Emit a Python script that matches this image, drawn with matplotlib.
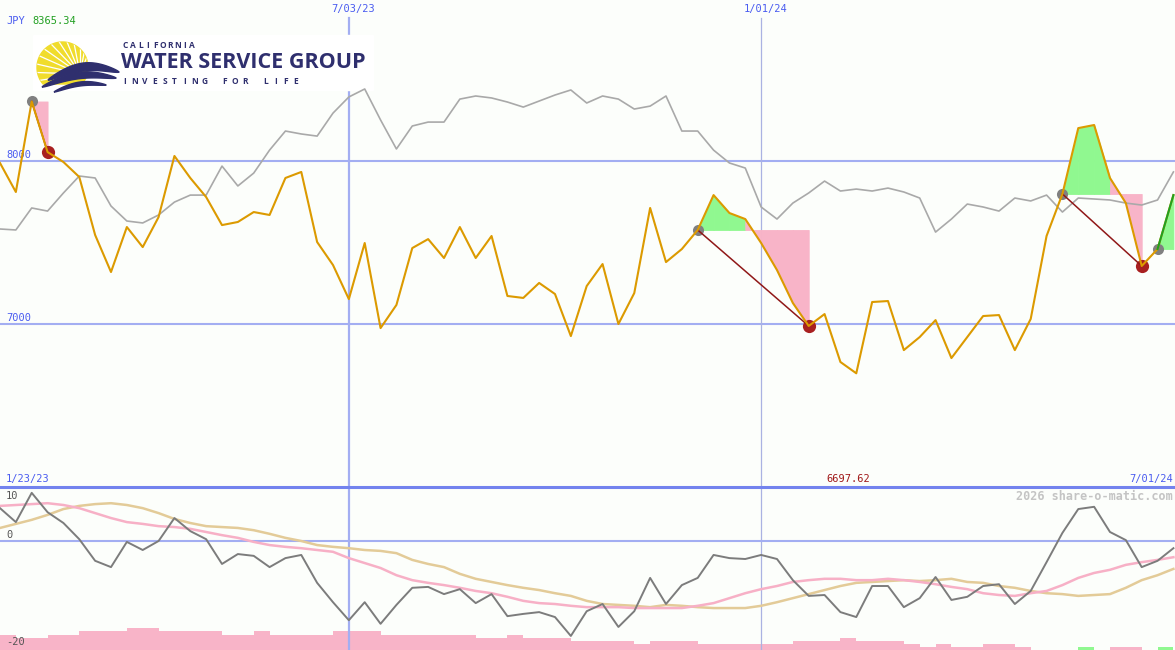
import matplotlib
matplotlib.use('Agg')
import matplotlib.pyplot as plt
import matplotlib.transforms as mtransforms
from matplotlib.patches import Polygon, Rectangle
import numpy as np
import pandas as pd

W, H = 1175, 650

# weekly data, index 0 = week of 1/30/23
first_week = pd.Timestamp('2023-01-30')
period_start = pd.Timestamp('2023-01-23')
period_end = pd.Timestamp('2024-07-01')
date_marks = [pd.Timestamp('2023-07-03'), pd.Timestamp('2024-01-01')]
price_levels = [7000, 8000]

price = [7988, 7810, 8365.34, 8055, 7994, 7902, 7546, 7319, 7595, 7472,
         7656, 8031, 7896, 7779, 7607, 7626, 7687, 7669, 7896, 7933,
         7503, 7362, 7153, 7497, 6975, 7117, 7466, 7521, 7405, 7595,
         7405, 7540, 7172, 7160, 7252, 7184, 6926, 7233, 7368, 7000,
         7190, 7712, 7380, 7460, 7577, 7791, 7681, 7644, 7497, 7331,
         7129, 6988, 7061, 6767, 6697.62, 7135, 7141, 6840, 6920, 7024,
         6791, 6920, 7049, 7055, 6840, 7031, 7540, 7798, 8202, 8221,
         7896, 7742, 7356, 7460, 7791]

# gray comparison series (rescaled to price)
compare = [7583, 7577, 7712, 7693, 7804, 7908, 7896, 7724, 7632, 7620,
           7669, 7748, 7791, 7791, 7969, 7847, 7926, 8067, 8184, 8166,
           8153, 8294, 8393, 8442, 8252, 8074, 8215, 8239, 8239, 8380,
           8399, 8387, 8362, 8331, 8368, 8405, 8436, 8356, 8399, 8380,
           8319, 8337, 8399, 8184, 8184, 8067, 7988, 7957, 7718, 7644,
           7742, 7804, 7877, 7816, 7828, 7816, 7834, 7810, 7773, 7564,
           7644, 7736, 7718, 7693, 7773, 7755, 7791, 7687, 7773, 7767,
           7761, 7742, 7730, 7761, 7933]

osc = [7.3, 4.2, 10.7, 6.4, 4.0, 0.4, -4.4, -5.8, -0.2, -2.0,
       0.0, 5.1, 2.2, 0.4, -5.1, -2.9, -3.3, -5.8, -3.8, -3.1,
       -9.3, -13.6, -17.6, -13.6, -18.4, -14.2, -10.4, -10.2, -11.8, -10.7,
       -13.8, -11.8, -16.7, -16.2, -15.8, -16.9, -21.1, -15.6, -14.0, -19.1,
       -15.6, -8.2, -14.0, -9.8, -8.2, -3.1, -3.8, -4.0, -3.1, -4.0,
       -8.7, -12.2, -12.0, -15.8, -16.9, -10.0, -10.0, -14.7, -12.7, -8.0,
       -13.1, -12.4, -10.0, -9.6, -14.0, -11.1, -4.7, 1.8, 7.1, 7.6,
       2.0, 0.2, -5.8, -4.4, -1.6]

osc_fast = [7.8, 8.0, 8.2, 8.4, 8.0, 7.3, 6.2, 5.1, 4.2, 3.8,
            3.3, 3.1, 2.7, 2.0, 1.3, 0.7, -0.2, -0.9, -1.3, -1.6,
            -2.0, -2.4, -3.8, -4.9, -6.0, -7.6, -8.7, -9.3, -9.8, -10.4,
            -11.1, -11.6, -12.4, -13.3, -13.8, -14.0, -14.4, -14.7, -14.7, -14.7,
            -14.9, -14.9, -14.9, -14.9, -14.4, -13.8, -12.7, -11.6, -10.7, -10.0,
            -9.1, -8.7, -8.4, -8.4, -8.7, -8.7, -8.4, -8.7, -9.1, -9.6,
            -10.2, -10.7, -11.6, -12.0, -12.2, -11.6, -11.1, -9.8, -8.2, -7.1,
            -6.4, -5.3, -4.7, -4.2, -3.6]

osc_slow = [2.9, 3.8, 4.7, 5.8, 7.1, 7.8, 8.2, 8.4, 8.0, 7.3,
            6.2, 4.9, 4.0, 3.3, 3.1, 2.9, 2.4, 1.6, 0.7, 0.0,
            -0.9, -1.3, -1.6, -2.0, -2.2, -2.7, -4.2, -5.1, -5.8, -7.3,
            -8.4, -9.1, -9.8, -10.4, -10.9, -11.6, -12.2, -13.3, -14.0, -14.2,
            -14.4, -14.7, -14.2, -14.4, -14.7, -14.9, -14.9, -14.9, -14.4, -13.6,
            -12.7, -11.8, -10.9, -10.0, -9.3, -9.1, -8.9, -8.7, -8.9, -8.7,
            -8.4, -9.1, -9.3, -10.0, -10.4, -11.1, -11.6, -11.8, -12.2, -12.0,
            -11.8, -10.4, -8.7, -7.6, -6.2]

volume = [15, 12, 12, 15, 15, 19, 19, 19, 22, 22,
          19, 19, 19, 19, 15, 15, 19, 15, 15, 15,
          15, 19, 19, 19, 15, 15, 15, 15, 15, 15,
          12, 12, 15, 12, 12, 12, 9, 9, 9, 9,
          6, 9, 9, 9, 6, 6, 6, 6, 6, 6,
          9, 9, 9, 12, 9, 9, 9, 6, 3, 6,
          3, 3, 6, 6, 3, 0, 0, 0, 3, 0,
          3, 3, 0, 3, 0]
volume_up_weeks = [68, 73]

entries = [2, 44, 67, 73]
exits = [3, 51, 72, 74]
open_trade = 73

weeks = np.arange(len(price))


def week_of(d):
    return (d - first_week).days / 7


def fmt(d):
    return f'{d.month}/{d.day:02d}/{d.year % 100:02d}'


BLUE = '#4a5cf0'
GRID = '#a3aef2'
NAVY = '#2f2f6e'
MONO = 'DejaVu Sans Mono'

fig = plt.figure(figsize=(W / 100, H / 100), dpi=100, facecolor='#fcfefb')
px = mtransforms.Affine2D().scale(1 / W, -1 / H).translate(0, 1) + fig.transFigure

ax = fig.add_axes([0, 163 / H, 1, 487 / H])
ax2 = fig.add_axes([0, 0, 1, 163 / H])
ax3 = ax2.twinx()
for a in (ax, ax2, ax3):
    a.axis('off')
ax3.set_zorder(ax2.get_zorder() - 1)

ax.set_xlim(0, 74.1)
ax.set_ylim(6000, 8988)
ax2.set_xlim(0, 74.1)
ax2.set_ylim(-24.22, 12)
ax3.set_ylim(0, 163)

# grid
for lv in price_levels:
    ax.axhline(lv, color=GRID, lw=1.5, zorder=1)
    ax.annotate(str(lv), xy=(0, lv), xycoords=mtransforms.blended_transform_factory(ax.transAxes, ax.transData),
                xytext=(6, 6), textcoords='offset pixels', va='center', ha='left',
                color=BLUE, fontsize=7.5, family=MONO)
top_frac = (487 - 18) / 487
ax.axvline(week_of(date_marks[0]), ymax=top_frac, color=GRID, lw=1.6, zorder=1)
ax.axvline(week_of(date_marks[1]), ymax=top_frac, color='#aab2e2', lw=0.9, zorder=1)
ax2.axvline(week_of(date_marks[0]), color=GRID, lw=1.6, zorder=1)
ax2.axvline(week_of(date_marks[1]), color='#aab2e2', lw=0.9, zorder=1)
for d in date_marks:
    ax.text(week_of(d) + 0.25, 9, fmt(d), transform=mtransforms.blended_transform_factory(ax.transData, px),
            ha='center', va='center', color=BLUE, fontsize=7.5, family=MONO, clip_on=False)

# logo
ax.add_patch(Rectangle((33, 35), 340, 55, transform=px, color='white', zorder=1.5, clip_on=False))
t = np.linspace(0, 2 * np.pi, 200)
sx = 62.5 + 25.5 * np.cos(t)
sy = np.minimum(67.5 + 25.5 * np.sin(t), 84)
sun = Polygon(np.column_stack([sx, sy]), closed=True, transform=px, color='#f0dc2c', zorder=1.6, clip_on=False)
ax.add_patch(sun)
for ang in np.arange(35, 200, 11):
    a = np.deg2rad(ang)
    ln, = ax.plot([80 + 7 * np.cos(a), 80 + 50 * np.cos(a)], [74 - 7 * np.sin(a), 74 - 50 * np.sin(a)],
                  color='white', lw=0.9, transform=px, zorder=1.7, clip_on=True)
    ln.set_clip_path(sun)
for x0, x1, y0, y1, amp, th in [(48, 119, 80, 72, 9, 8), (42, 116, 87, 78, 7, 6.5), (54, 106, 92, 85, 4.5, 4)]:
    xs = np.linspace(x0, x1, 60)
    u = (xs - x0) / (x1 - x0)
    mid = y0 + (y1 - y0) * u - amp * np.sin(np.pi * u)
    thick = th * np.sin(np.pi * u) ** 0.6
    pts = np.vstack([np.column_stack([xs, mid - thick / 2]), np.column_stack([xs[::-1], (mid + thick / 2)[::-1]])])
    ax.add_patch(Polygon(pts, closed=True, transform=px, color=NAVY, zorder=1.8, clip_on=False))

for i, ch in enumerate('CALIFORNIA'):
    ax.text(125.5 + i * 7.4, 46, ch, transform=px, ha='center', va='center', color=NAVY,
            fontsize=6, family='Open Sans', weight='bold', zorder=1.9, clip_on=False)
for i, ch in enumerate('INVESTING FOR LIFE'):
    ax.text(124.5 + i * 10.05, 81, ch, transform=px, ha='center', va='center', color=NAVY,
            fontsize=6, family='Open Sans', weight='bold', zorder=1.9, clip_on=False)
logo = ax.text(121, 63, 'WATER SERVICE GROUP', transform=px, ha='left', va='center', color=NAVY,
               fontsize=16, family='Open Sans', weight='bold', zorder=1.9, clip_on=False)
r = fig.canvas.get_renderer()
wpx = logo.get_window_extent(r).width
logo.set_fontsize(16 * 246 / wpx)

# trades: fill between entry level and price
for e, x in zip(entries, exits):
    level = price[e]
    for i in range(e, x):
        c = '#90f890' if price[i + 1] >= level else '#f8b4c8'
        ax.fill_between(weeks[i:i + 2], level, price[i:i + 2], facecolor=c, edgecolor=c, lw=0.6, zorder=2)

ax.plot(weeks, compare, color='#a9a9a9', lw=1.2, zorder=2.2)

for e, x in zip(entries, exits):
    ax.plot(e, price[e], 'o', color='#808080', ms=8, mec='none', zorder=2.6)
    if e != open_trade:
        ax.plot(x, price[x], 'o', color='#a82020', ms=9.5, mec='none', zorder=2.6)
        ax.plot([e, x], [price[e], price[x]], color='#901818', lw=1.1, zorder=2.7)

ax.plot(weeks, price, color='#dc9a00', lw=1.5, zorder=3)
ax.plot(weeks[open_trade:open_trade + 2], price[open_trade:open_trade + 2], color='#22a022', lw=1.5, zorder=3.1)

# header / footer labels
fig.text(6, 21, 'JPY', transform=px, va='center', ha='left', color=BLUE, fontsize=7.5, family=MONO)
fig.text(32, 21, f'{max(price):.2f}', transform=px, va='center', ha='left', color='#22a022',
         fontsize=7.5, family=MONO)
fig.text(6, 479, fmt(period_start), transform=px, va='center', ha='left', color=BLUE, fontsize=7.5, family=MONO)
fig.text(1173, 479, fmt(period_end), transform=px, va='center', ha='right', color=BLUE, fontsize=7.5, family=MONO)
imin = int(np.argmin(price))
ax.text(imin - 0.5, 479, f'{min(price):.2f}', transform=mtransforms.blended_transform_factory(ax.transData, px),
        va='center', ha='center', color='#a01818', fontsize=7.5, family=MONO, clip_on=False)

# oscillator panel
ax2.axhline(0, color=GRID, lw=1.5, zorder=1)
ax2.axhline(12, color='#7383ee', lw=2.2, zorder=5, clip_on=False)
ax2.plot(weeks, osc_slow, color='#e3cb98', lw=1.8, zorder=2)
ax2.plot(weeks, osc_fast, color='#f7b0c6', lw=1.8, zorder=2)
ax2.plot(weeks, osc, color='#7c7c7c', lw=1.4, zorder=3)
bar_colors = ['#90f890' if k in volume_up_weeks else '#f8b4c8' for k in weeks]
ax3.bar(weeks, volume, width=1.0, align='edge', color=bar_colors, lw=0)

for lab, y in [('10', 496), ('0', 535), ('-20', 642)]:
    fig.text(6, y, lab, transform=px, va='center', ha='left', color='#555555', fontsize=7.5, family=MONO, zorder=10)
fig.text(1173, 496, '2026 share-o-matic.com', transform=px, va='center', ha='right', color='#c4c4c4',
         fontsize=8.5, family=MONO, weight='bold')

fig.savefig('out.png', dpi=100, facecolor=fig.get_facecolor())
